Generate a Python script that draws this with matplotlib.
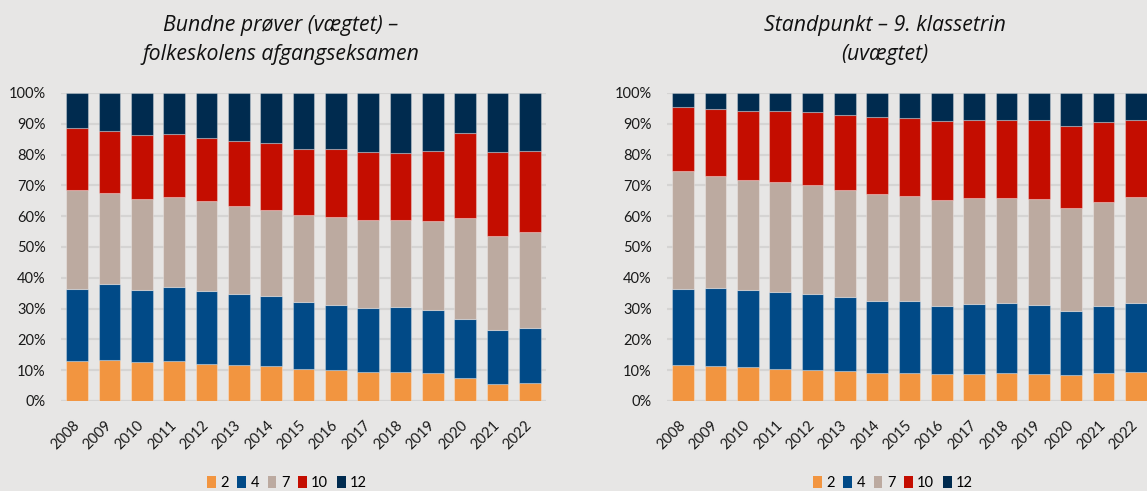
import matplotlib
matplotlib.use("Agg")
import matplotlib.pyplot as plt
from matplotlib.patches import Patch
import numpy as np

years = [str(y) for y in range(2008, 2023)]
grades = ["2", "4", "7", "10", "12"]
colors = ["#F29540", "#014A87", "#BCAAA0", "#C40D00", "#002B4F"]

# Left: Bundne prøver (vægtet) – shares in % per grade
left_2 = [12.9, 13.4, 12.8, 12.9, 12.0, 11.8, 11.5, 10.4, 10.0, 9.4, 9.5, 9.0, 7.5, 5.6, 5.8]
left_4 = [23.4, 24.5, 23.3, 24.0, 23.7, 23.0, 22.5, 21.9, 21.1, 20.8, 21.0, 20.7, 19.2, 17.3, 18.0]
left_7 = [32.3, 29.7, 29.6, 29.4, 29.3, 28.5, 28.1, 28.1, 28.7, 28.5, 28.3, 28.7, 32.7, 30.7, 31.2]
left_10 = [19.9, 20.1, 20.6, 20.3, 20.3, 21.0, 21.6, 21.4, 22.0, 22.0, 21.8, 22.7, 27.5, 27.1, 26.3]
left_12 = [11.5, 12.3, 13.7, 13.4, 14.7, 15.7, 16.3, 18.2, 18.2, 19.3, 19.4, 18.9, 13.1, 19.3, 18.7]

# Right: Standpunkt – 9. klassetrin (uvægtet)
right_2 = [11.7, 11.5, 11.1, 10.5, 10.1, 9.6, 9.2, 9.2, 8.7, 8.9, 9.1, 8.8, 8.4, 9.0, 9.4]
right_4 = [24.6, 25.1, 25.0, 25.0, 24.7, 24.1, 23.4, 23.3, 22.3, 22.7, 22.7, 22.3, 20.8, 21.8, 22.5]
right_7 = [38.5, 36.5, 35.8, 35.5, 35.3, 34.9, 34.5, 34.1, 34.3, 34.2, 34.1, 34.6, 33.6, 33.8, 34.3]
right_10 = [20.7, 21.8, 22.4, 23.3, 23.7, 24.4, 25.1, 25.3, 25.7, 25.4, 25.3, 25.5, 26.4, 25.9, 24.9]
right_12 = [4.5, 5.1, 5.7, 5.7, 6.2, 7.0, 7.8, 8.1, 9.0, 8.8, 8.8, 8.8, 10.8, 9.5, 8.9]

left_title = "Bundne prøver (vægtet) –\nfolkeskolens afgangseksamen"
right_title = "Standpunkt – 9. klassetrin\n(uvægtet)"

BG = "#E7E6E5"
GRID = "#D5D4D3"
FONT = "Lato"
plt.rcParams["font.family"] = [FONT, "DejaVu Sans"]

W, H = 1147, 491
fig = plt.figure(figsize=(W / 100, H / 100), dpi=100, facecolor=BG)


def draw(ax_rect, series, title, title_x, legend_x):
    ax = fig.add_axes(ax_rect)
    ax.set_facecolor(BG)
    x = np.arange(len(years))
    bottom = np.zeros(len(years))
    for vals, col in zip(series, colors):
        v = np.array(vals) / 100.0
        ax.bar(x, v, bottom=bottom, width=0.66, color=col,
               edgecolor=(1, 1, 1, 0.3), linewidth=0.8, zorder=3)
        bottom += v
    ax.set_ylim(0, 1)
    ax.set_xlim(-0.5, len(years) - 0.5)
    ticks = np.arange(0, 1.01, 0.1)
    ax.set_yticks(ticks)
    ax.set_yticklabels([f"{int(round(t * 100))}%" for t in ticks],
                       fontsize=10.5, color="#1a1a1a")
    ax.set_xticks(x)
    ax.set_xticklabels(years, rotation=45, ha="right", va="center",
                       rotation_mode="anchor", fontsize=10.5, color="#1a1a1a")
    ax.tick_params(axis="y", length=0, pad=11)
    ax.tick_params(axis="x", length=0, pad=16)
    for s in ax.spines.values():
        s.set_visible(False)
    ax.yaxis.grid(True, color=GRID, linewidth=1.6, zorder=0)
    ax.set_axisbelow(True)
    ax.axhline(0, color=GRID, linewidth=2.2, zorder=2)
    fig.text(title_x / W, 1 - 40 / H, title, ha="center", va="center",
             fontsize=15.3, style="italic", color="#111111", linespacing=1.45,
             family=["Open Sans", "DejaVu Sans"])
    handles = [Patch(facecolor=c, edgecolor="none") for c in colors]
    fig.legend(handles, grades, loc="center", bbox_to_anchor=(legend_x / W, 1 - 483 / H),
               ncol=5, frameon=False, fontsize=10.5, handlelength=0.6, handleheight=0.9,
               handletextpad=0.3, columnspacing=0.6, borderpad=0)
    return ax


ax_h = 308
ax_bottom = (H - 401) / H
draw([61 / W, ax_bottom, 485 / W, ax_h / H],
     [left_2, left_4, left_7, left_10, left_12], left_title, 281, 287)
draw([667 / W, ax_bottom, 485 / W, ax_h / H],
     [right_2, right_4, right_7, right_10, right_12], right_title, 885, 893)

fig.savefig("out.png", dpi=100, facecolor=BG)
